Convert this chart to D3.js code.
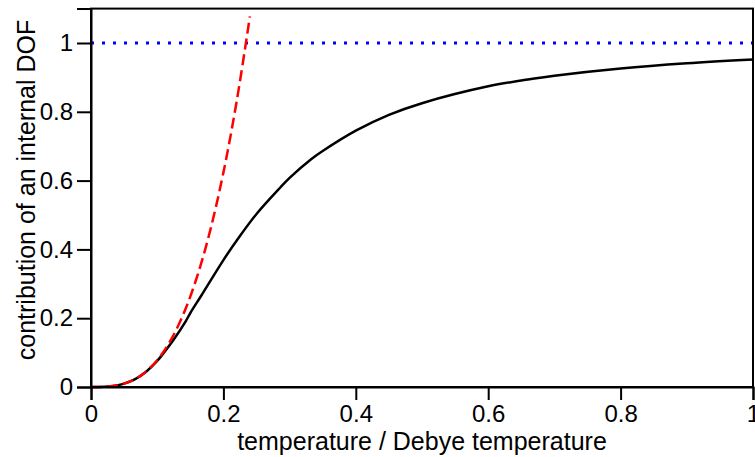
<!DOCTYPE html>
<html>
<head>
<meta charset="utf-8">
<script src="https://cdn.jsdelivr.net/npm/d3@7"></script>
<style>
  body { margin: 0; background: #fff; }
  text { font-family: "Liberation Sans", Arial, sans-serif; fill: #000; }
</style>
</head>
<body>
<svg id="chart" width="755" height="457"></svg>
<script>
// values
const debyeT = [0, 0.02, 0.0333, 0.04, 0.05, 0.0667, 0.0833, 0.1, 0.111, 0.125, 0.143, 0.15, 0.1667, 0.2, 0.222, 0.25, 0.286, 0.3, 0.333, 0.35, 0.4, 0.45, 0.5, 0.6, 0.667, 0.7, 0.8, 0.9, 1.0];
const debyeC = [0, 0.0006, 0.0029, 0.005, 0.0097, 0.023, 0.0446, 0.0758, 0.102, 0.138, 0.191, 0.215, 0.266, 0.369, 0.431, 0.503, 0.58, 0.608, 0.663, 0.686, 0.745, 0.791, 0.825, 0.874, 0.896, 0.905, 0.926, 0.941, 0.952];

const lowT = [0, 0.02, 0.04, 0.06, 0.08, 0.1, 0.12, 0.14, 0.16, 0.18, 0.2, 0.22, 0.24];
const lowC = [0, 0.0006, 0.005, 0.0168, 0.0399, 0.0779, 0.1347, 0.2138, 0.3192, 0.4545, 0.6234, 0.8298, 1.0773];

const limitLine = [[0, 1], [1, 1]];

const xTicks = [0, 0.2, 0.4, 0.6, 0.8, 1];
const yTicks = [0, 0.2, 0.4, 0.6, 0.8, 1];

const svg = d3.select("#chart");

const x = d3.scaleLinear().domain([0, 1]).range([91, 753]);
const y = d3.scaleLinear().domain([0, 1.1]).range([387, 8.6]);

const line = d3.line()
    .x(d => x(d[0]))
    .y(d => y(d[1]))
    .curve(d3.curveCatmullRom.alpha(0.5));

// blue dotted limit
svg.append("path")
    .datum(limitLine)
    .attr("d", d3.line().x(d => x(d[0])).y(d => y(d[1])))
    .attr("fill", "none")
    .attr("stroke", "#0000ff")
    .attr("stroke-width", 3)
    .attr("stroke-dasharray", "3,8");

// Debye curve
svg.append("path")
    .datum(debyeT.map((t, i) => [t, debyeC[i]]))
    .attr("d", line)
    .attr("fill", "none")
    .attr("stroke", "#000")
    .attr("stroke-width", 2.5);

// T^3 law
svg.append("path")
    .datum(lowT.map((t, i) => [t, lowC[i]]))
    .attr("d", line)
    .attr("fill", "none")
    .attr("stroke", "#ff0000")
    .attr("stroke-width", 2.5)
    .attr("stroke-dasharray", "11,5");

// frame
svg.append("rect")
    .attr("x", x(0)).attr("y", y(1.1))
    .attr("width", x(1) - x(0)).attr("height", y(0) - y(1.1))
    .attr("fill", "none")
    .attr("stroke", "#000")
    .attr("stroke-width", 2);

const xAxis = svg.append("g")
    .attr("transform", `translate(0,${y(0)})`)
    .call(d3.axisBottom(x).tickValues(xTicks).tickSize(13).tickPadding(5).tickFormat(d3.format("")));
const yAxis = svg.append("g")
    .attr("transform", `translate(${x(0)},0)`)
    .call(d3.axisLeft(y).tickValues(yTicks).tickSize(14).tickPadding(4).tickFormat(d3.format("")));

[xAxis, yAxis].forEach(g => {
    g.select(".domain").attr("stroke-width", 2);
    g.selectAll(".tick line").attr("stroke-width", 2);
    g.selectAll("text").style("font-size", "24px").attr("fill", "#000")
        .style("font-family", "'Liberation Sans', Arial, sans-serif");
});

svg.append("text")
    .attr("x", 422).attr("y", 450)
    .attr("text-anchor", "middle")
    .style("font-size", "25px")
    .text("temperature / Debye temperature");

svg.append("text")
    .attr("transform", "translate(35,190) rotate(-90)")
    .attr("text-anchor", "middle")
    .style("font-size", "25px")
    .text("contribution of an internal DOF");
</script>
</body>
</html>
